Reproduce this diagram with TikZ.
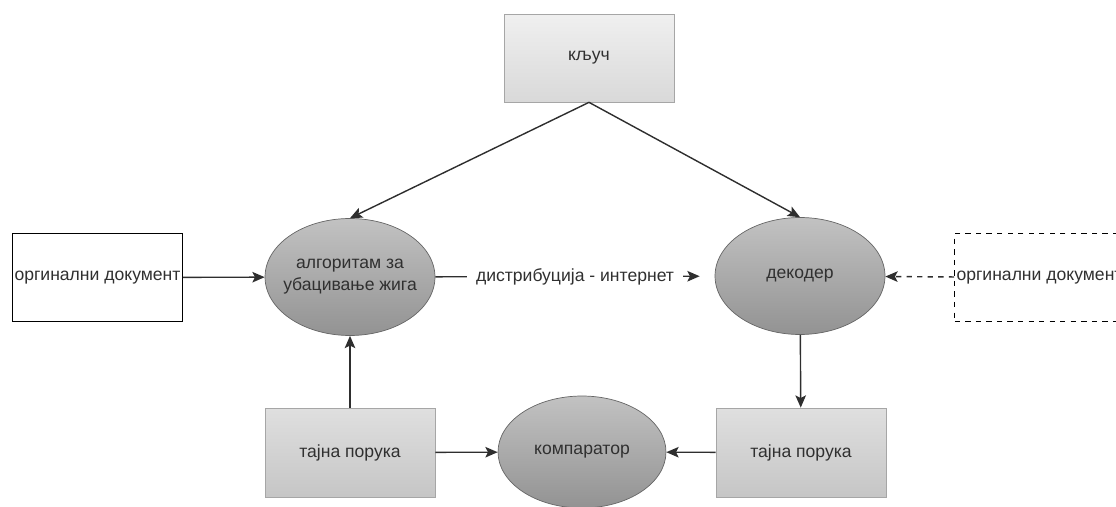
\documentclass[tikz,border=0pt]{standalone}
\usepackage{fontspec}
\setmainfont{Liberation Sans}
\usetikzlibrary{shapes.geometric,arrows.meta}

\definecolor{linegray}{HTML}{2E2E2E}
\definecolor{txtgray}{HTML}{303030}

\begin{document}
\begin{tikzpicture}[x=0.02cm, y=-0.02cm,
    every node/.style={font=\fontsize{10}{12.5}\selectfont, text=txtgray},
    keybox/.style={rectangle, draw=gray!70, top color=gray!12, bottom color=gray!30,
        minimum width=3.4cm, minimum height=1.76cm},
    docbox/.style={rectangle, draw=black, line width=0.8pt, fill=white,
        minimum width=3.38cm, minimum height=1.76cm, inner sep=1pt},
    msgbox/.style={rectangle, draw=gray!70, top color=gray!25, bottom color=gray!45,
        minimum width=3.4cm, minimum height=1.78cm},
    procnode/.style={ellipse, draw=gray!80!black, top color=gray!48, bottom color=gray!85,
        minimum width=3.4cm, minimum height=2.34cm, inner sep=0pt},
    flow/.style={-{Stealth[length=7pt, width=6pt, inset=1.5pt]}, draw=linegray, line width=0.8pt}
]

    % Frame
    \clip (0,0) rectangle (1116,507);

    % Boxes
    \node[keybox] (kljuc) at (589,58) {кључ};
    \node[docbox] (orig) at (97.5,277.5) {оргинални документ};
    \node[docbox, dashed] (origcopy) at (1039.5,277.5) {оргинални документ};
    \node[msgbox] (secret) at (350,452.5) {тајна порука};
    \node[msgbox] (secretout) at (801,452.5) {тајна порука};

    % Processes
    \node[procnode, label={[align=center]center:алгоритам за\\убацивање жига}] (embed) at (350,277) {};
    \node[procnode, label={center:декодер}] (decoder) at (800,276) {};
    \node[procnode, minimum width=3.36cm, minimum height=2.24cm,
        label={center:компаратор}] (compare) at (582,452) {};

    % Connectors
    \draw[flow] (kljuc.south) -- (embed.north);
    \draw[flow] (kljuc.south) -- (decoder.north);
    \draw[flow] (orig) -- (embed);
    \draw[flow, shorten >=0.3cm] (embed) -- node[fill=white, inner sep=5pt] {дистрибуција - интернет} (decoder);
    \draw[flow, dashed] (origcopy) -- (decoder);
    \draw[flow] (secret) -- (embed);
    \draw[flow] (decoder) -- (secretout);
    \draw[flow] (secret) -- (compare);
    \draw[flow] (secretout) -- (compare);

\end{tikzpicture}
\end{document}
